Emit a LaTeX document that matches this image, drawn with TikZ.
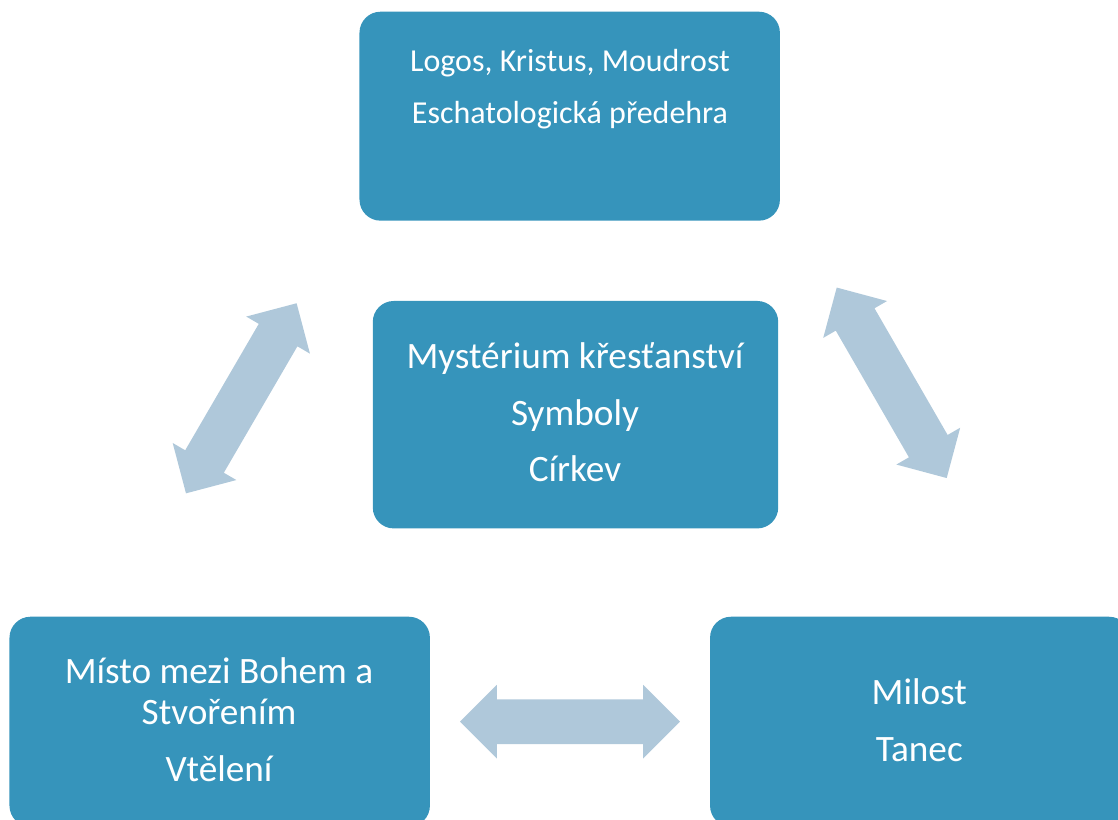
\documentclass[tikz,border=0pt]{standalone}
\usepackage{fontspec}
\setmainfont{Carlito}
\usepackage{tikz}
\usetikzlibrary{shapes.arrows}
\definecolor{boxBlue}{RGB}{54,148,187}
\definecolor{arrowGrey}{RGB}{175,200,218}
\tikzset{
  topicbox/.style={rectangle,rounded corners=0.42cm,fill=boxBlue,draw=none,inner sep=0pt},
  linktxt/.style={text=white,anchor=base,inner sep=0pt},
  twoway/.style={double arrow,fill=arrowGrey,draw=none,inner xsep=0pt,inner ysep=0.44cm,
    minimum height=4.4cm,minimum width=1.46cm,
    double arrow head extend=0.29cm,double arrow tip angle=90}
}
\newcommand{\bigtxt}{\fontsize{21.2}{25}\selectfont}
\newcommand{\smalltxt}{\fontsize{18.2}{22}\selectfont}

\begin{document}
\begin{tikzpicture}[x=0.02cm,y=-0.02cm]
  \useasboundingbox (0,0) rectangle (1118,820);
  \clip (0,0) rectangle (1118,820);
  % ---- boxes
  \node[topicbox,minimum width=8.41cm,minimum height=4.18cm] (logos) at (569.7,116.2) {};
  \node[topicbox,minimum width=8.11cm,minimum height=4.55cm] (myst) at (575.5,414.7) {};
  \node[topicbox,minimum width=8.41cm,minimum height=4.2cm] (misto) at (219.7,721.7) {};
  \node[topicbox,minimum width=8.4cm,minimum height=4.2cm] (milost) at (920,721.7) {};
  % ---- texts
  \node[linktxt,font=\smalltxt] (logos-a) at (570,71.7) {Logos, Kristus, Moudrost};
  \node[linktxt,font=\smalltxt] (logos-b) at (570,123.3) {Eschatologická předehra};
  \node[linktxt,font=\bigtxt] (myst-a) at (575,368.3) {Mystérium křesťanství};
  \node[linktxt,font=\bigtxt] (myst-b) at (575,425) {Symboly};
  \node[linktxt,font=\bigtxt] (myst-c) at (575,481.7) {Církev};
  \node[linktxt,font=\bigtxt] (misto-a) at (219,683.3) {Místo mezi Bohem a};
  \node[linktxt,font=\bigtxt] (misto-b) at (219,724) {Stvořením};
  \node[linktxt,font=\bigtxt] (misto-c) at (219,781.7) {Vtělení};
  \node[linktxt,font=\bigtxt] (milost-a) at (919.3,704) {Milost};
  \node[linktxt,font=\bigtxt] (milost-b) at (919.3,761.7) {Tanec};
  % ---- double arrows
  \node[twoway,rotate=59.8] (arrL) at (241.3,398.3) {};
  \node[twoway,rotate=-60] (arrR) at (891.7,382.8) {};
  \node[twoway] (arrB) at (570,721.7) {};
\end{tikzpicture}
\end{document}
